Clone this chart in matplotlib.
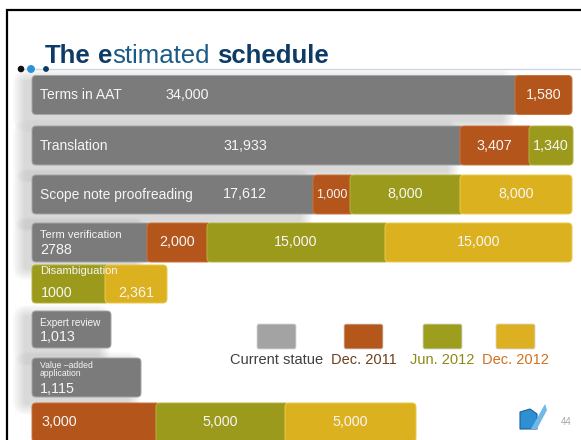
import matplotlib
matplotlib.use('Agg')
import matplotlib.pyplot as plt
from matplotlib.patches import Rectangle, Polygon, FancyBboxPatch

plt.rcParams['font.family'] = ['Liberation Sans', 'DejaVu Sans']

# tasks from top to bottom (bottom row carries no name on the slide)
tasks = ['Terms in AAT', 'Translation', 'Scope note proofreading', 'Term verification',
         'Disambiguation', 'Expert review', 'Value \u2013added\napplication', '']
stages = ['Current statue', 'Dec. 2011', 'Jun. 2012', 'Dec. 2012']

# segment lengths as drawn on the slide (they are not to scale with the numbers)
current_len = [483, 428, 281, 115, 0, 79, 109, 0]
dec2011_len = [57, 69, 37, 60, 0, 0, 0, 124]
jun2012_len = [0, 44, 110, 178, 73, 0, 0, 129]
dec2012_len = [0, 0, 112, 187, 62, 0, 0, 131]

# numbers written on the segments
current_txt = ['34,000', '31,933', '17,612', '2788', '', '1,013', '1,115', '']
dec2011_txt = ['1,580', '3,407', '1,000', '2,000', '', '', '', '3,000']
jun2012_txt = ['', '1,340', '8,000', '15,000', '1000', '', '', '5,000']
dec2012_txt = ['', '', '8,000', '15,000', '2,361', '', '', '5,000']

bar_colors = ['#7b7b7b', '#b4561b', '#9b9a1c', '#dbb11f']
edge_colors = ['#a6a6a6', '#c9743c', '#b5b43e', '#ebc94a']
legend_colors = ['#a3a3a3', '#b5561a', '#9e9e1e', '#dcb020']
legend_text_colors = ['#404040', '#6e4020', '#8c8a14', '#d3701e']

# slide layout, in pixels
W, H = 581, 440
x0 = 32
row_y = [95, 145.5, 194.5, 242.5, 284, 329.5, 377.5, 422.5]
row_h = [39, 39, 39, 39, 38, 37, 39, 39]
radius = 4
white = '#f6f6f6'

fig = plt.figure(figsize=(W / 100, H / 100), dpi=100)
ax = fig.add_axes([0, 0, 1, 1])
ax.set_xlim(0, W)
ax.set_ylim(H, 0)
ax.axis('off')

# frame of the slide
ax.plot([7, 7, W], [H, 10, 10], color='black', linewidth=1.6, solid_joinstyle='miter')

# title with mixed weights
renderer = fig.canvas.get_renderer()
pieces = [('The', 'bold', '#0d3b66', 7), ('e', 'bold', '#0d3b66', 0),
          ('stimated', 'normal', '#1b5a86', 7), ('schedule', 'bold', '#0d3b66', 0)]
tx = 45
for txt, weight, col, gap in pieces:
    t = ax.text(tx, 63, txt, fontsize=18.5, fontweight=weight, color=col, va='baseline', ha='left')
    bb = t.get_window_extent(renderer=renderer)
    tx += bb.width + gap

ax.plot([20, W], [69, 69], color='#cdd7e2', linewidth=1)
ax.scatter([21, 31, 46], [69, 69, 69], s=[14, 22, 10], color=['#111111', '#2a93d5', '#0d3b66'], zorder=5)

# soft shadow behind the grey (current) segments
for i, w in enumerate(current_len):
    if w == 0:
        continue
    top = row_y[i] - row_h[i] / 2
    for k in range(12):
        pad = 12 - k
        ax.add_patch(FancyBboxPatch((x0 - 7 - pad, top + 6 - pad), w + 2 * pad - 6, row_h[i] + 2 * pad,
                                    boxstyle='round,pad=0,rounding_size=%d' % (pad + 2),
                                    facecolor='#7a7a7a', alpha=0.022, edgecolor='none', zorder=1))

# stacked bars, drawn with barh and then given rounded ends
series = [current_len, dec2011_len, jun2012_len, dec2012_len]
texts = [current_txt, dec2011_txt, jun2012_txt, dec2012_txt]
left = [x0] * len(tasks)
lefts = []
row_end = [x0 + sum(v) for v in zip(*series)]
for s, (lens, fc, ec) in enumerate(zip(series, bar_colors, edge_colors)):
    lefts.append(list(left))
    bars = ax.barh(row_y, lens, left=left, height=row_h, color=fc, zorder=3)
    for i, rect in enumerate(bars):
        rect.set_visible(False)
        bx, by, bw, bh = rect.get_x(), rect.get_y(), rect.get_width(), rect.get_height()
        if bw == 0:
            continue
        # slide under the next segment so only the row ends look rounded
        extra = radius if bx + bw < row_end[i] - 0.5 else 0
        ax.add_patch(FancyBboxPatch((bx, by), bw + extra, bh,
                                    boxstyle='round,pad=0,rounding_size=%d' % radius,
                                    facecolor=fc, edgecolor=ec, linewidth=0.7, zorder=3 + s * 0.1))
    left = [l + w for l, w in zip(left, lens)]

# task names and current counts
name_fs = [10, 10, 10, 8, 8.1, 7.2, 6.2, 10]
for i, name in enumerate(tasks):
    yc = row_y[i]
    if i < 3:
        ax.text(40, yc, name, fontsize=name_fs[i], color=white, va='center', zorder=6)
        vx = [165, 223, 223][i]
        ax.text(vx, yc, current_txt[i], fontsize=10.3, color=white, va='center', zorder=6)
    elif name:
        dy_name = {3: -7.5, 4: -13, 5: -6.5, 6: -8}[i]
        dy_val = {3: 7.5, 4: 9, 5: 7.5, 6: 11.5}[i]
        ax.text(40, yc + dy_name, name, fontsize=name_fs[i], color=white, va='center',
                linespacing=0.95, zorder=6)
        if current_txt[i]:
            ax.text(40, yc + dy_val, current_txt[i], fontsize=10.3, color=white, va='center', zorder=6)

# numbers on the later segments
for s in range(1, 4):
    for i, txt in enumerate(texts[s]):
        if not txt:
            continue
        l = lefts[s][i]
        w = series[s][i]
        yc = row_y[i]
        if i == 4:
            yc = row_y[i] + 9
        fs = 9 if (s == 1 and i == 2) else 10.3
        if l == x0:
            ax.text(x0 + 9, yc, txt, fontsize=fs, color=white, va='center', ha='left', zorder=6)
        else:
            ax.text(l + w / 2, yc, txt, fontsize=fs, color=white, va='center', ha='center', zorder=6)

# legend
leg_x = [257, 344, 423, 496]
for lx, lab, fc, tc in zip(leg_x, stages, legend_colors, legend_text_colors):
    ax.add_patch(FancyBboxPatch((lx, 324), 39, 25, boxstyle='round,pad=0,rounding_size=2',
                                facecolor=fc, edgecolor='#d8d8d8', linewidth=0.6, zorder=3))
    ax.text(lx + 19.5, 360, lab, fontsize=10.5, color=tc, ha='center', va='center')

# logo and page number
ax.add_patch(Polygon([[520, 412], [530, 409], [537, 414], [537, 429], [520, 429]],
                     closed=True, facecolor='#2f8fd3', edgecolor='#1d5f96', linewidth=0.8, zorder=4))
ax.add_patch(Polygon([[531, 429], [545, 404], [547, 410], [537, 429]],
                     closed=True, facecolor='#6fb8e8', edgecolor='none', zorder=5))
ax.text(566, 422, '44', fontsize=7, color='#a8a8a8', va='center', ha='center')

fig.savefig('out.png', dpi=100)
